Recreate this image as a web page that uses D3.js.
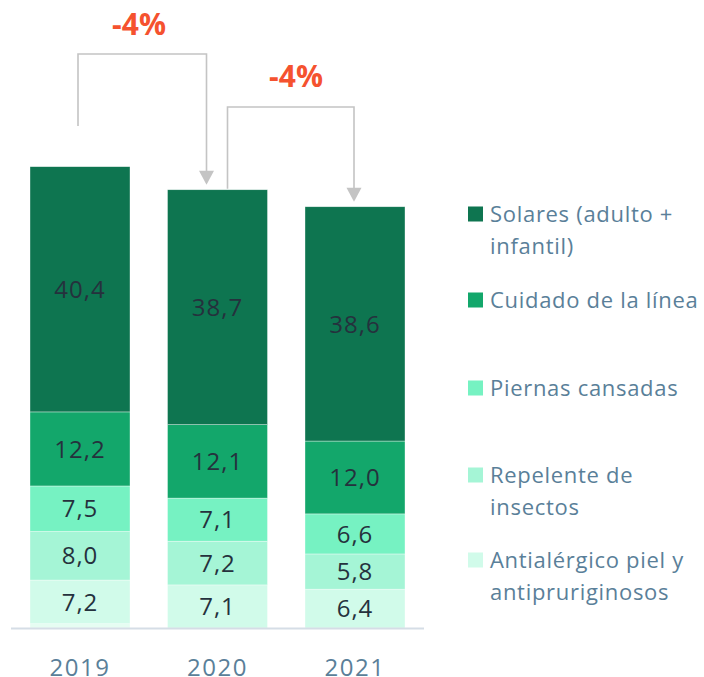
<!DOCTYPE html>
<html>
<head>
<meta charset="utf-8">
<script src="https://cdn.jsdelivr.net/npm/d3@7"></script>
<style>
  body { margin: 0; background: #fff; }
  svg { font-family: "Open Sans", "Noto Sans", sans-serif; display: block; }
</style>
</head>
<body>
<svg id="chart" width="704" height="677"></svg>
<script>
const years = ["2019", "2020", "2021"];
// stacked from bottom to top; "otros" is the thin unlabelled strip under 2019
const series = ["otros", "antialergico", "repelente", "piernas", "cuidado", "solares"];
const otros = [0.7, 0, 0];
const antialergico = [7.2, 7.1, 6.4];
const repelente = [8.0, 7.2, 5.8];
const piernas = [7.5, 7.1, 6.6];
const cuidado = [12.2, 12.1, 12.0];
const solares = [40.4, 38.7, 38.6];
const changes = ["-4%", "-4%"];

const legendItems = [
  { key: "solares", lines: ["Solares (adulto +", "infantil)"] },
  { key: "cuidado", lines: ["Cuidado de la línea"] },
  { key: "piernas", lines: ["Piernas cansadas"] },
  { key: "repelente", lines: ["Repelente de", "insectos"] },
  { key: "antialergico", lines: ["Antialérgico piel y", "antipruriginosos"] }
];

const colors = {
  solares: "#0e7550",
  cuidado: "#13a76b",
  piernas: "#76f2c2",
  repelente: "#a5f5d6",
  antialergico: "#d1fbea",
  otros: "#e6fdf2"
};

const values = { otros, antialergico, repelente, piernas, cuidado, solares };
const rows = years.map((y, i) => {
  const r = { year: y };
  series.forEach(s => r[s] = values[s][i]);
  return r;
});

const svg = d3.select("#chart");

const x = d3.scaleBand().domain(years).range([16.25, 418.75]).paddingInner(37.5 / 137.5).paddingOuter(0.1);
const y = d3.scaleLinear().domain([0, 80]).range([628, 142.4]);

const stack = d3.stack().keys(series)(rows);

const bars = svg.append("g");
stack.forEach(layer => {
  bars.selectAll(null)
    .data(layer)
    .join("rect")
    .attr("x", d => x(d.data.year))
    .attr("width", x.bandwidth())
    .attr("y", d => y(d[1]))
    .attr("height", d => y(d[0]) - y(d[1]))
    .attr("fill", colors[layer.key])
    .attr("stroke", "#ffffff")
    .attr("stroke-width", 0.6)
    .attr("stroke-opacity", 0.6);

  if (layer.key === "otros") return;
  bars.selectAll(null)
    .data(layer)
    .join("text")
    .attr("x", d => x(d.data.year) + x.bandwidth() / 2)
    .attr("y", d => (y(d[0]) + y(d[1])) / 2)
    .attr("dy", "0.36em")
    .attr("text-anchor", "middle")
    .attr("font-size", 24)
    .attr("letter-spacing", 1)
    .attr("fill", "#25313d")
    .text(d => d3.format(".1f")(d[1] - d[0]).replace(".", ","));
});

// axis
svg.append("line")
  .attr("x1", 11).attr("x2", 424)
  .attr("y1", 628.5).attr("y2", 628.5)
  .attr("stroke", "#d5dde6").attr("stroke-width", 2);

const xAxis = svg.append("g")
  .attr("transform", "translate(0,667)")
  .call(d3.axisBottom(x).tickSize(0).tickPadding(0));
xAxis.select(".domain").remove();
xAxis.selectAll("text")
  .attr("font-family", "Open Sans, Noto Sans, sans-serif")
  .attr("font-size", 24)
  .attr("letter-spacing", 1.5)
  .attr("fill", "#5a7f99")
  .attr("dy", "0.36em");

// change brackets
const totals = rows.map(r => d3.sum(series, s => r[s]));
const bracketColor = "#c4c4c4";
const brackets = [
  { from: 0, to: 1, x1: x("2019") + 48, x2: x("2020") + 39, top: 54, startY: 126, label: changes[0], lx: 139, ly: 24 },
  { from: 1, to: 2, x1: x("2020") + 60, x2: x("2021") + 49, top: 107, startY: y(totals[1]) - 1, label: changes[1], lx: 296, ly: 76 }
];
brackets.forEach(b => {
  const tipY = y(totals[b.to]) - 5;
  svg.append("path")
    .attr("d", `M${b.x1},${b.startY}V${b.top}H${b.x2}V${tipY - 12}`)
    .attr("fill", "none")
    .attr("stroke", bracketColor)
    .attr("stroke-width", 1.6);
  svg.append("path")
    .attr("d", `M${b.x2 - 7.5},${tipY - 14}L${b.x2 + 7.5},${tipY - 14}L${b.x2},${tipY}Z`)
    .attr("fill", bracketColor);
  svg.append("text")
    .attr("x", b.lx).attr("y", b.ly)
    .attr("dy", "0.36em")
    .attr("text-anchor", "middle")
    .attr("font-size", 30)
    .attr("font-weight", "bold")
    .attr("fill", "#f5522f")
    .text(b.label);
});

// legend
const legendY = [214, 300, 388, 475, 560];
const legend = svg.append("g");
legendItems.forEach((item, i) => {
  const g = legend.append("g").attr("transform", `translate(468,${legendY[i]})`);
  g.append("rect")
    .attr("x", 0).attr("y", -7.5)
    .attr("width", 15).attr("height", 15)
    .attr("fill", colors[item.key]);
  item.lines.forEach((line, j) => {
    g.append("text")
      .attr("x", 22)
      .attr("y", j * 32.5)
      .attr("dy", "0.36em")
      .attr("font-size", 22)
      .attr("letter-spacing", 0.7)
      .attr("fill", "#5a7f99")
      .text(line);
  });
});
</script>
</body>
</html>
